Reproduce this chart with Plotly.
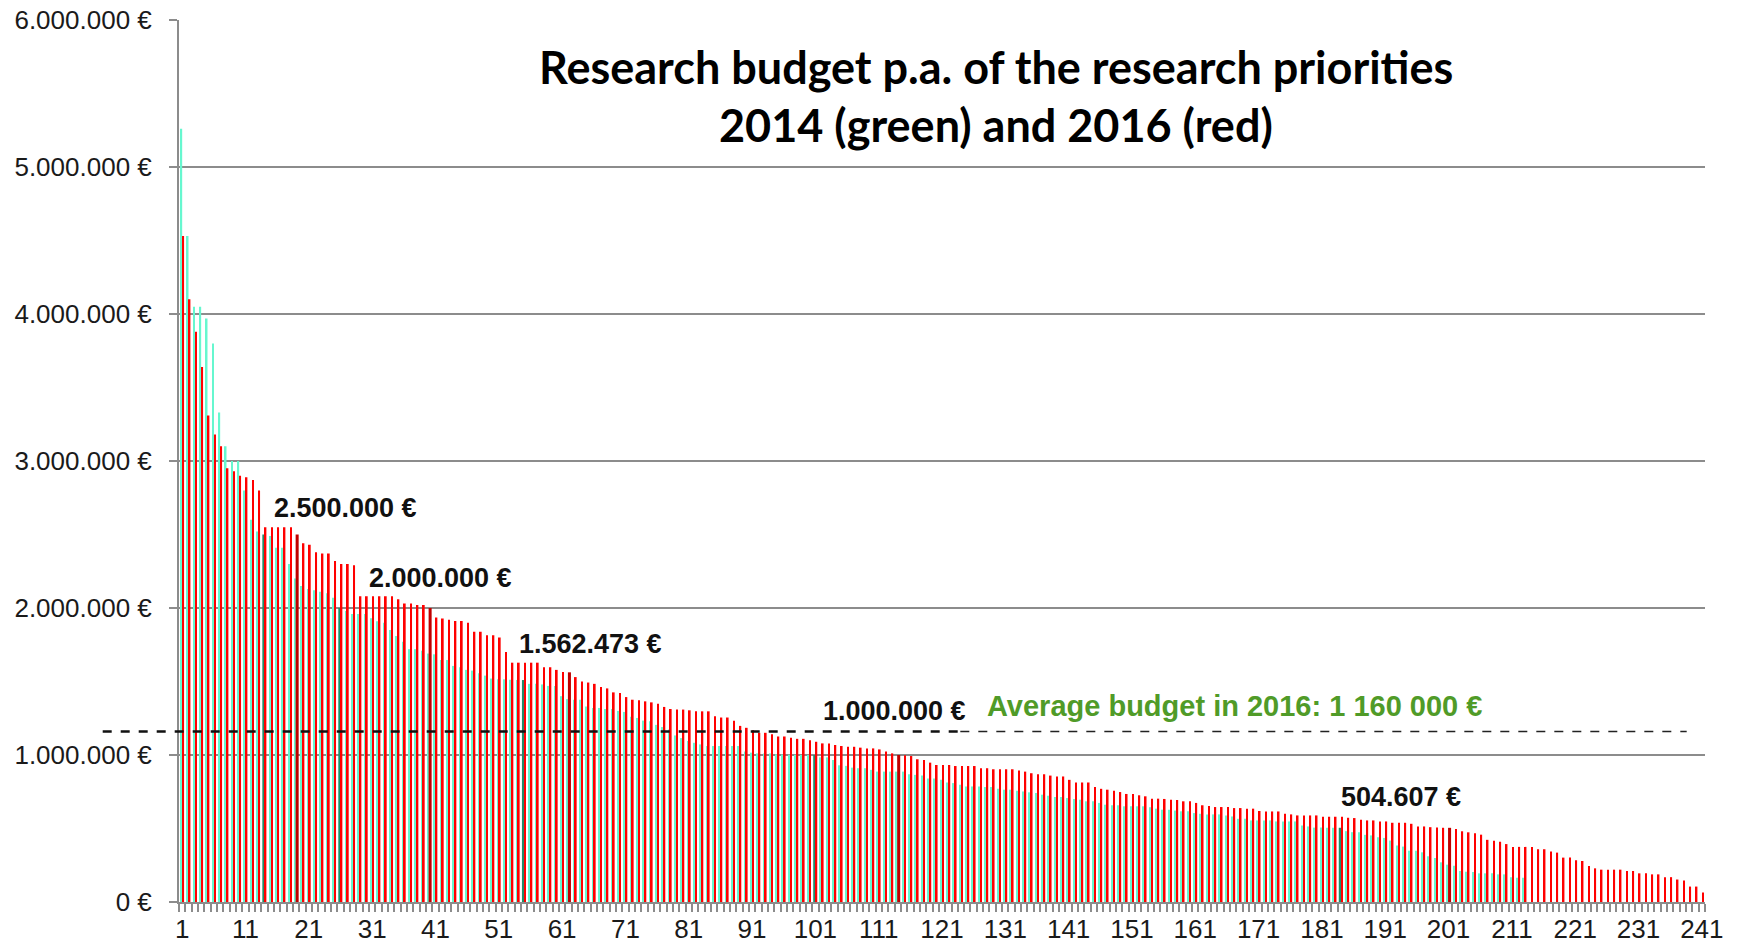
import plotly.graph_objects as go

# ---------------- data (values in thousand EUR, sorted descending) ----------------
budget_2016_keur = [
    4530, 4100, 3880, 3640, 3310, 3180, 3100, 2950, 2930, 2900,
    2890, 2870, 2800, 2550, 2550, 2550, 2550, 2550, 2500, 2440,
    2430, 2380, 2370, 2370, 2320, 2300, 2300, 2290, 2080, 2080,
    2080, 2080, 2080, 2080, 2060, 2030, 2030, 2020, 2020, 2000,
    1935, 1928, 1920, 1912, 1912, 1899, 1838, 1838, 1815, 1815,
    1800, 1700, 1628, 1628, 1628, 1628, 1628, 1597, 1597, 1579,
    1565, 1562.473, 1530, 1500, 1493, 1484, 1462, 1453, 1426, 1421,
    1394, 1376, 1372, 1365, 1358, 1349, 1327, 1313, 1309, 1309,
    1304, 1297, 1297, 1297, 1264, 1255, 1255, 1233, 1198, 1185,
    1169, 1151, 1151, 1142, 1126, 1126, 1117, 1110, 1110, 1101,
    1090, 1079, 1079, 1068, 1061, 1056, 1056, 1050, 1045, 1045,
    1038, 1023, 1011, 1000, 998, 993, 971, 966, 948, 932,
    932, 932, 925, 925, 925, 925, 910, 910, 903, 903,
    903, 903, 894, 887, 876, 869, 869, 860, 854, 854,
    831, 813, 813, 813, 782, 770, 764, 757, 748, 735,
    735, 726, 719, 703, 703, 701, 696, 694, 685, 685,
    674, 658, 653, 646, 646, 646, 639, 639, 635, 635,
    619, 616, 616, 616, 600, 596, 589, 589, 589, 589,
    580, 580, 580, 580, 573, 571, 559, 555, 555, 548,
    548, 539, 539, 539, 532, 514, 514, 509, 506, 505,
    504.607, 497, 481, 474, 467, 458, 423, 416, 410, 394,
    375, 375, 375, 375, 359, 359, 343, 336, 302, 302,
    284, 279, 245, 229, 220, 220, 220, 220, 211, 211,
    195, 195, 188, 188, 169, 169, 153, 146, 105, 105,
    64,
]

budget_2014_keur = [
    5260, 4530, 4050, 4050, 3970, 3800, 3330, 3100, 3000, 3000,
    2800, 2600, 2520, 2500, 2490, 2410, 2410, 2300, 2200, 2150,
    2130, 2120, 2110, 2100, 2070, 2000, 1980, 1960, 1960, 1960,
    1930, 1910, 1900, 1850, 1810, 1770, 1720, 1720, 1710, 1690,
    1685, 1646, 1646, 1606, 1597, 1579, 1574, 1556, 1540, 1520,
    1516, 1515, 1512, 1510, 1510, 1484, 1484, 1480, 1470, 1470,
    1400, 1380, 1376, 1376, 1330, 1320, 1320, 1313, 1313, 1300,
    1293, 1260, 1252, 1234, 1230, 1205, 1190, 1173, 1133, 1115,
    1095, 1083, 1072, 1061, 1061, 1061, 1061, 1061, 1061, 1023,
    1016, 1011, 1011, 1011, 1005, 1003, 1002, 1001, 1000, 1000,
    1000, 984, 984, 966, 930, 926, 914, 910, 910, 899,
    887, 887, 887, 887, 887, 869, 865, 860, 840, 840,
    831, 813, 809, 797, 786, 786, 786, 782, 782, 770,
    764, 764, 757, 752, 746, 741, 730, 723, 714, 714,
    707, 701, 696, 685, 685, 674, 662, 658, 658, 651,
    651, 651, 651, 644, 635, 628, 628, 622, 617, 617,
    605, 600, 596, 596, 596, 589, 582, 566, 566, 555,
    555, 555, 555, 548, 548, 548, 548, 521, 514, 506,
    506, 505, 505, 505, 482, 475, 475, 457, 453, 441,
    436, 418, 384, 377, 349, 349, 338, 311, 299, 270,
    254, 247, 211, 206, 204, 195, 195, 195, 188, 188,
    169, 165, 165,
]

highlight_2016 = [19, 40, 62, 114, 201]   # priority ranks marked in dark red
highlight_2014 = [14, 26, 55, 101, 184]   # priority ranks marked in dark green
AVG_2016 = 1160000

y_tick_values = [0, 1000000, 2000000, 3000000, 4000000, 5000000, 6000000]
y_tick_labels = ["0 €", "1.000.000 €", "2.000.000 €", "3.000.000 €",
                 "4.000.000 €", "5.000.000 €", "6.000.000 €"]
x_tick_values = list(range(1, 242, 10))
x_tick_labels = [str(v) for v in x_tick_values]

title_lines = ["Research budget p.a. of the research priorities",
               "2014 (green) and 2016 (red)"]
avg_label = "Average budget in 2016: 1 160 000 €"

# ---------------- derived ----------------
v2016 = [v * 1000 for v in budget_2016_keur]
v2014 = [v * 1000 for v in budget_2014_keur]
x2016 = list(range(1, len(v2016) + 1))
x2014 = list(range(1, len(v2014) + 1))

RED, DARK_RED = "#FF0000", "#C00000"
GREEN, DARK_GREEN = "#66F7CF", "#1E8F6B"
GRID = "#8C8C8C"

def fmt_eur(v):
    return f"{int(round(v)):,}".replace(",", ".") + " €"

g_col = [DARK_GREEN if x in highlight_2014 else GREEN for x in x2014]
g_w = [0.48 if x in highlight_2014 else 0.27 for x in x2014]
g_off = [-0.34 if x in highlight_2014 else -0.27 for x in x2014]
r_col = [DARK_RED if x in highlight_2016 else RED for x in x2016]
r_w = [0.48 if x in highlight_2016 else 0.27 for x in x2016]
r_off = [-0.08 if x in highlight_2016 else 0.03 for x in x2016]

fig = go.Figure()
fig.add_trace(go.Bar(x=x2014, y=v2014, marker=dict(color=g_col, line=dict(width=0)),
                     width=g_w, offset=g_off, name="2014", hoverinfo="x+y"))
fig.add_trace(go.Bar(x=x2016, y=v2016, marker=dict(color=r_col, line=dict(width=0)),
                     width=r_w, offset=r_off, name="2016", hoverinfo="x+y"))

# average line (dashed), extends left of the axis
fig.add_shape(type="line", xref="paper", yref="y", x0=-0.05, x1=0.512,
              y0=AVG_2016, y1=AVG_2016, line=dict(color="#111111", width=2.4, dash="dash"))
fig.add_shape(type="line", xref="paper", yref="y", x0=0.512, x1=0.988,
              y0=AVG_2016, y1=AVG_2016, line=dict(color="#222222", width=1.5, dash="dash"))

annos = []
label_pos = [(15.2, 2680000), (30.2, 2204000), (53.9, 1755000), (101.9, 1300000), (183.7, 714000)]
for rank, (lx, ly) in zip(highlight_2016, label_pos):
    annos.append(dict(x=lx, y=ly, xref="x", yref="y", xanchor="left", yanchor="middle",
                      text="<b>" + fmt_eur(v2016[rank - 1]) + "</b>", showarrow=False,
                      font=dict(family="Liberation Sans, Arial", size=27, color="#111111")))
annos.append(dict(x=127.8, y=1333000, xref="x", yref="y", xanchor="left", yanchor="middle",
                  text="<b>" + avg_label + "</b>", showarrow=False,
                  font=dict(family="Liberation Sans, Arial", size=29, color="#509B28")))
for line, py in zip(title_lines, [0.9467, 0.881]):
    annos.append(dict(x=0.5354, y=py, xref="paper", yref="paper", xanchor="center", yanchor="middle",
                      text="<b>" + line + "</b>", showarrow=False,
                      font=dict(family="Lato, Open Sans, sans-serif", size=45, color="#000000")))

fig.update_layout(
    width=1740, height=943,
    margin=dict(l=179, r=35, t=20, b=41, autoexpand=False),
    paper_bgcolor="white", plot_bgcolor="white",
    barmode="overlay", showlegend=False,
    annotations=annos,
    font=dict(family="Liberation Sans, Arial", size=26, color="#1a1a1a"),
)
fig.update_xaxes(
    range=[0.5, 241.5], tickmode="array", tickvals=x_tick_values, ticktext=x_tick_labels,
    showgrid=False, zeroline=False, showline=True, linecolor=GRID, linewidth=2,
    ticks="", ticklabelstandoff=3, automargin=False,
    minor=dict(tick0=0.5, dtick=1, ticks="outside", ticklen=8, tickcolor=GRID, tickwidth=1.5),
    tickfont=dict(size=26, color="#1a1a1a"),
)
fig.update_yaxes(
    range=[0, 6000000], tickmode="array", tickvals=y_tick_values, ticktext=y_tick_labels,
    showgrid=True, gridcolor=GRID, gridwidth=2, zeroline=False,
    showline=True, linecolor=GRID, linewidth=2, automargin=False,
    ticks="outside", ticklen=8, tickcolor=GRID, tickwidth=2, ticklabelstandoff=12,
    tickfont=dict(size=26, color="#1a1a1a"),
)

fig.write_html("out.html", config={"displayModeBar": False},
               post_script="document.body.style.margin='0px';document.body.style.overflow='hidden';")
